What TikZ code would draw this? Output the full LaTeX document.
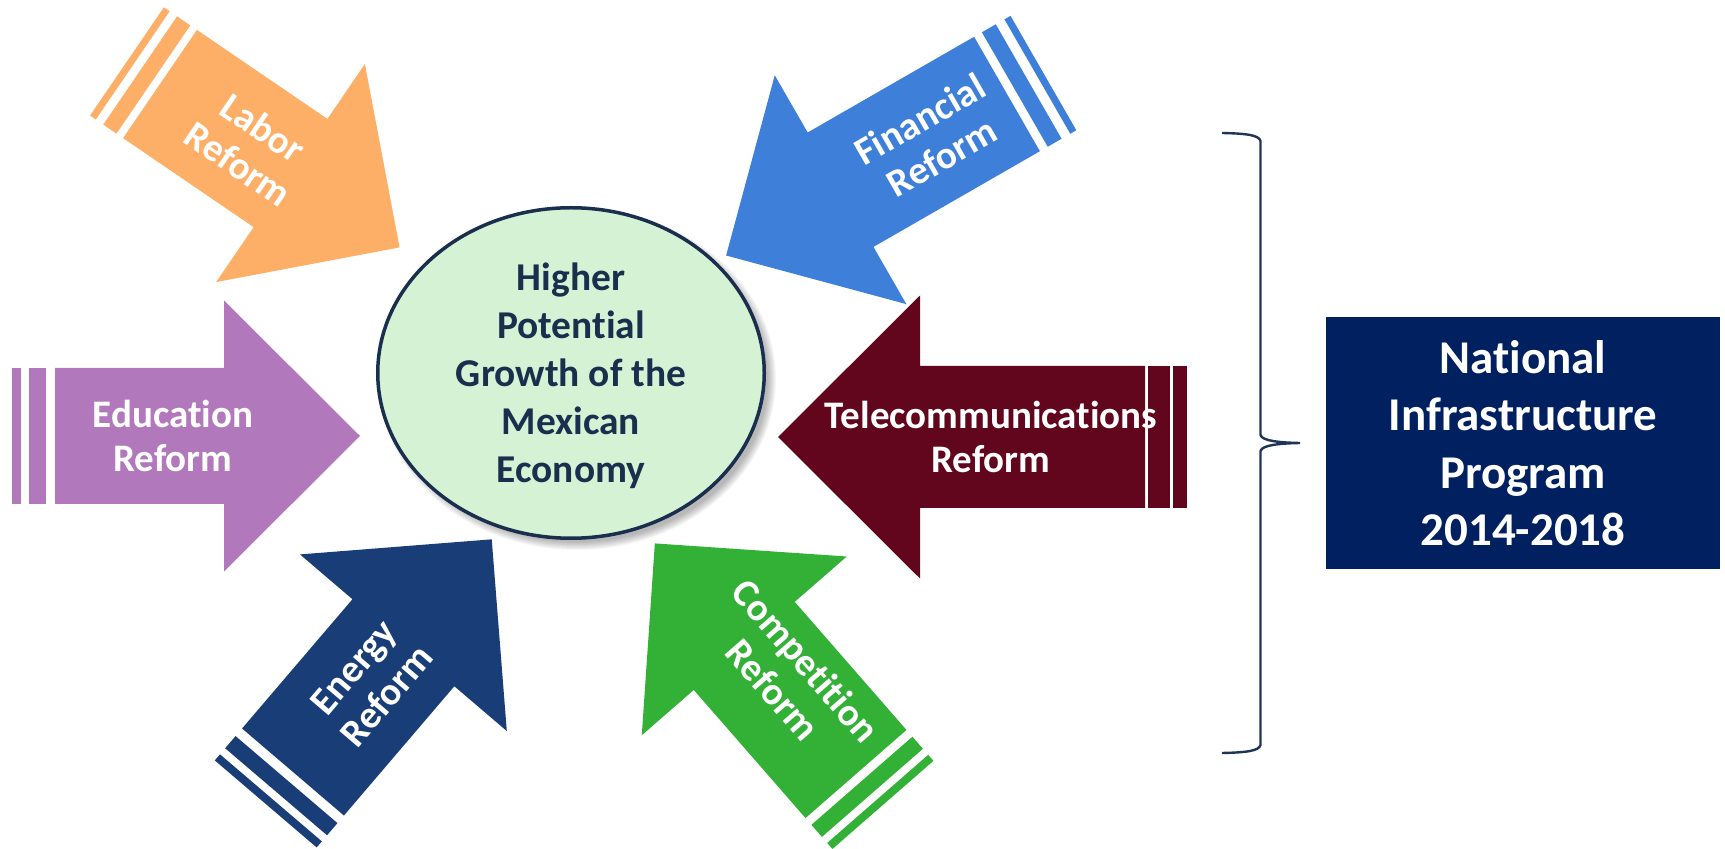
\documentclass[tikz,border=0pt]{standalone}
\usepackage{fontspec}
\setmainfont{Carlito}[Ligatures={NoCommon,NoRare,NoDiscretionary,NoContextual},Contextuals=NoAlternate,RawFeature={-rlig;-ccmp}]
\usepackage{tikz}

\definecolor{laborc}{HTML}{FDAE67}
\definecolor{financec}{HTML}{3D7FD9}
\definecolor{educc}{HTML}{B278BC}
\definecolor{telecc}{HTML}{62061D}
\definecolor{energyc}{HTML}{193E77}
\definecolor{competc}{HTML}{33B036}
\definecolor{ecofill}{HTML}{D5F2D4}
\definecolor{ecoline}{HTML}{1A2E4D}
\definecolor{nipc}{HTML}{002060}
\definecolor{bracec}{HTML}{1E3557}

\begin{document}
\begin{tikzpicture}[x=0.5pt,y=-0.5pt,
    lbl/.style={text=white,align=center,inner sep=0pt,font=\bfseries\fontsize{19.5}{22}\selectfont},
    eco/.style={text=ecoline,align=center,inner sep=0pt,font=\bfseries\fontsize{19.7}{24}\selectfont},
    nip/.style={fill=nipc,text=white,align=center,minimum width=197pt,minimum height=126pt,font=\bfseries\fontsize{23.5}{28.7}\selectfont}]
        \useasboundingbox (0,0) rectangle (1725,849);
        % name/colour/tail/angle/length/head/body/head width/label/stripes/text
        \foreach \n/\col/\tx/\ty/\ang/\len/\hl/\bw/\hw/\ld/\lo/\ga/\wa/\gb/\wb/\txt
          [evaluate=\ang as \tr using \ang+180*(cos(\ang)<0)]
          in {labor/laborc/160/84/-34.3/290/132/131/264/110/0/8/16/9/7/{Labor\\Reform},
              financial/financec/1007/94/-150.1/324/132/132/264/88/0/9/16/10/7/{Financial\\Reform},
              education/educc/55/436/0/305/136/136/271/118/0/9/17/8/9/{Education\\Reform},
              telecom/telecc/1145/437/180/367/142/142/283/154/0/3/22/3/14/{Telecommunications\\Reform},
              energy/energyc/293/772/49.5/306/136/134/272/119/0/10/16/8/8/{Energy\\Reform},
              competition/competc/856/774/131.1/306/136/134/272/118/15/9/16/8/8/{Competition\\Reform}}{
          \begin{scope}[shift={(\tx,\ty)},rotate=\ang]
            \fill[\col] (0,-\bw/2) -- (\len-\hl,-\bw/2) -- (\len-\hl,-\hw/2) -- (\len,0)
              -- (\len-\hl,\hw/2) -- (\len-\hl,\bw/2) -- (0,\bw/2) -- cycle;
            \fill[\col] (-\ga,-\bw/2) rectangle (-\ga-\wa,\bw/2);
            \fill[\col] (-\ga-\wa-\gb,-\bw/2) rectangle (-\ga-\wa-\gb-\wb,\bw/2);
            \node[lbl,rotate=\tr] (\n) at (\ld,\lo) {\txt};
          \end{scope}
        }
        \foreach \s in {1,...,9}
            \fill[black,opacity=0.035] (577,379) ellipse [x radius=190+\s, y radius=162+\s];
        \draw[fill=ecofill,draw=ecoline,line width=1.75pt] (571,373) ellipse [x radius=193.25, y radius=165.25];
        \node[eco] (economy) at (571,376) {Higher\\Potential\\Growth of the\\Mexican\\Economy};
        \draw[bracec,line width=1.2pt] (1222,133) .. controls (1246,133.5) and (1259,135) .. (1260.5,141)
            -- (1260.5,435) .. controls (1262,441) and (1280,442.6) .. (1300,443)
            .. controls (1280,443.4) and (1262,445) .. (1260.5,451)
            -- (1260.5,745) .. controls (1259,751) and (1246,752.5) .. (1222,753);
        \node[nip] (program) at (1523,443) {National\\Infrastructure\\Program\\2014-2018};
\end{tikzpicture}
\end{document}
